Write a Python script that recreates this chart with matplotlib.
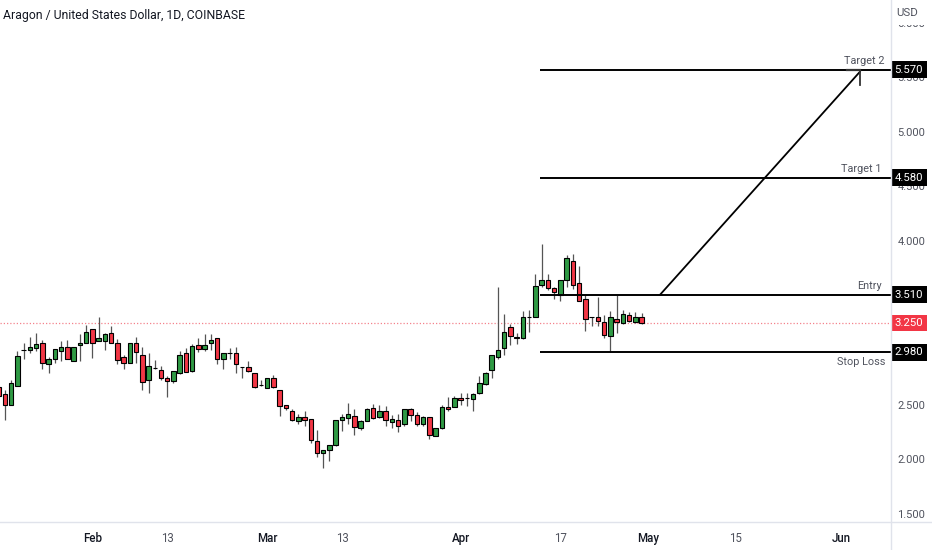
import matplotlib
matplotlib.use('Agg')
import matplotlib.pyplot as plt
from matplotlib.lines import Line2D
from matplotlib.patches import Rectangle

plt.rcParams['font.family'] = ['Roboto', 'DejaVu Sans']

# Daily candles, index 0 is 17 Jan
opens = [2.66, 2.60, 2.50, 2.67, 3.00, 3.00, 3.02, 3.07, 2.87, 2.92,
         2.99, 3.03, 2.90, 3.05, 3.07, 3.19, 3.08, 3.08, 3.16, 3.07,
         2.94, 2.88, 3.07, 2.96, 2.73, 2.84, 2.82, 2.75, 2.72, 2.79,
         2.97, 2.81, 3.05, 3.01, 3.07, 3.11, 2.92, 2.97, 2.97, 2.85,
         2.85, 2.79, 2.68, 2.65, 2.75, 2.64, 2.50, 2.44, 2.35, 2.39,
         2.37, 2.17, 2.06, 2.09, 2.13, 2.36, 2.38, 2.40, 2.29, 2.35,
         2.47, 2.39, 2.44, 2.34, 2.36, 2.32, 2.46, 2.41, 2.32, 2.39,
         2.21, 2.29, 2.48, 2.48, 2.56, 2.56, 2.55, 2.61, 2.69, 2.82,
         2.94, 3.02, 3.21, 3.12, 3.11, 3.30, 3.30, 3.60, 3.64, 3.57,
         3.51, 3.64, 3.82, 3.62, 3.47, 3.30, 3.30, 3.26, 3.13, 3.29,
         3.25, 3.32, 3.26, 3.30]
closes = [2.58, 2.50, 2.70, 2.95, 3.00, 3.03, 3.06, 2.88, 2.92, 3.01,
          3.03, 2.92, 3.03, 3.07, 3.17, 3.07, 3.11, 3.15, 3.07, 2.91,
          2.88, 3.07, 2.98, 2.71, 2.86, 2.84, 2.75, 2.72, 2.81, 2.96,
          2.80, 3.04, 3.01, 3.05, 3.09, 2.92, 2.97, 2.97, 2.87, 2.85,
          2.81, 2.66, 2.68, 2.75, 2.66, 2.49, 2.47, 2.36, 2.39, 2.36,
          2.18, 2.06, 2.09, 2.13, 2.36, 2.39, 2.42, 2.30, 2.35, 2.46,
          2.38, 2.44, 2.36, 2.37, 2.31, 2.46, 2.41, 2.32, 2.39, 2.22,
          2.29, 2.48, 2.46, 2.56, 2.54, 2.56, 2.60, 2.70, 2.79, 2.96,
          3.00, 3.17, 3.13, 3.11, 3.30, 3.30, 3.59, 3.64, 3.57, 3.53,
          3.64, 3.84, 3.60, 3.45, 3.29, 3.30, 3.27, 3.14, 3.30, 3.26,
          3.33, 3.27, 3.30, 3.25]
highs = [2.66, 2.64, 2.73, 2.99, 3.07, 3.12, 3.16, 3.09, 2.94, 3.01,
         3.08, 3.09, 3.03, 3.15, 3.23, 3.19, 3.30, 3.16, 3.22, 3.10,
         2.96, 3.07, 3.12, 3.03, 2.97, 2.91, 2.86, 2.76, 2.81, 2.99,
         3.02, 3.06, 3.11, 3.15, 3.15, 3.11, 2.97, 3.02, 3.03, 2.85,
         2.90, 2.79, 2.73, 2.75, 2.77, 2.64, 2.50, 2.46, 2.42, 2.44,
         2.37, 2.27, 2.09, 2.13, 2.36, 2.42, 2.52, 2.46, 2.36, 2.47,
         2.51, 2.50, 2.49, 2.41, 2.42, 2.46, 2.47, 2.43, 2.40, 2.39,
         2.29, 2.50, 2.57, 2.58, 2.61, 2.61, 2.61, 2.76, 2.80, 2.96,
         3.58, 3.33, 3.24, 3.16, 3.36, 3.37, 3.70, 3.97, 3.70, 3.58,
         3.64, 3.87, 3.88, 3.77, 3.51, 3.30, 3.49, 3.32, 3.36, 3.51,
         3.37, 3.35, 3.35, 3.34]
lows = [2.58, 2.36, 2.50, 2.67, 2.92, 2.97, 2.99, 2.83, 2.79, 2.88,
        2.90, 2.92, 2.90, 2.90, 3.07, 2.93, 3.08, 3.00, 3.07, 2.87,
        2.83, 2.88, 2.88, 2.64, 2.61, 2.83, 2.73, 2.57, 2.70, 2.78,
        2.80, 2.80, 2.98, 2.99, 3.00, 2.87, 2.83, 2.92, 2.79, 2.75,
        2.80, 2.65, 2.67, 2.65, 2.65, 2.40, 2.45, 2.35, 2.32, 2.31,
        2.15, 2.02, 1.92, 1.99, 2.12, 2.26, 2.32, 2.22, 2.27, 2.35,
        2.37, 2.38, 2.31, 2.29, 2.25, 2.31, 2.35, 2.31, 2.31, 2.19,
        2.21, 2.28, 2.44, 2.48, 2.50, 2.49, 2.44, 2.60, 2.68, 2.75,
        2.92, 2.96, 3.05, 3.06, 3.10, 3.17, 3.30, 3.58, 3.55, 3.47,
        3.45, 3.58, 3.56, 3.45, 3.18, 3.22, 3.22, 3.11, 2.98, 3.16,
        3.24, 3.26, 3.25, 3.24]

# Axis ticks, 3.000 and 3.500 sit fully behind the level tags
x_ticks = [15, 27, 43, 55, 74, 90, 104, 118, 135]
x_labels = ['Feb', '13', 'Mar', '13', 'Apr', '17', 'May', '15', 'Jun']
y_ticks = [1.5, 2.0, 2.5, 4.0, 4.5, 5.0, 5.5, 6.0]

# Trade levels
level_prices = [5.57, 4.58, 3.51, 2.98]
level_names = ['Target 2', 'Target 1', 'Entry', 'Stop Loss']
last_price = 3.25
arrow_days = [106, 138]
arrow_prices = [3.51, 5.55]

GREEN = '#2f9a44'
RED = '#f23645'
TEXT = '#50535e'

fig = plt.figure(figsize=(9.32, 5.5), dpi=100)
ax = fig.add_axes([0, 1 - 522 / 550, 890.5 / 932, 522 / 550])
ax.set_xlim(0.2, 142.9)
ax.set_ylim(1.427, 6.207)

# Candles
days = range(len(opens))
ax.vlines(days, lows, highs, color='#555555', linewidth=0.9, zorder=2)
for d in days:
    bottom = min(opens[d], closes[d])
    height = abs(closes[d] - opens[d])
    color = GREEN if closes[d] >= opens[d] else RED
    ax.bar(d, height, bottom=bottom, width=0.72, color=color,
           edgecolor='black', linewidth=0.8, zorder=3)

# Levels and their labels
for price, name in zip(level_prices, level_names):
    ax.hlines(price, 86.8, 143, color='black', linewidth=1.4, zorder=4)
    if name == 'Stop Loss':
        ax.text(142, price - 0.04, name, ha='right', va='top', fontsize=7.8, color=TEXT)
    else:
        x = 142 if name == 'Target 2' else 141.5
        ax.text(x, price + 0.03, name, ha='right', va='bottom', fontsize=7.8, color=TEXT)

# Arrow from entry up to target 2
ax.plot(arrow_days, arrow_prices, color='black', linewidth=1.3, zorder=4)
ax.plot([arrow_days[1], arrow_days[1]], [5.57, 5.43], color='#333333', linewidth=1.3, zorder=4)
ax.plot([136, arrow_days[1]], [5.565, 5.565], color='#333333', linewidth=1.6, zorder=4)

# Last price line
ax.axhline(last_price, color='#f4828c', linewidth=0.9, linestyle=(0, (1, 1.6)), zorder=1)

# Axes
ax.spines['top'].set_visible(False)
ax.spines['left'].set_visible(False)
ax.spines['right'].set_visible(False)
ax.spines['bottom'].set_visible(False)
ax.set_xticks(x_ticks)
ax.set_xticklabels(x_labels, fontsize=8.3)
for label, text in zip(ax.get_xticklabels(), x_labels):
    if text.isdigit():
        label.set_color(TEXT)
    else:
        label.set_color('#131722')
        label.set_fontweight('medium')
ax.tick_params(axis='x', length=0, pad=7.5)
ax.yaxis.tick_right()
ax.set_yticks(y_ticks)
ax.set_yticklabels([f'{t:.3f}' for t in y_ticks], fontsize=8, color=TEXT)
ax.tick_params(axis='y', length=0, pad=5)
fig.add_artist(Line2D([890.5 / 932, 890.5 / 932], [0, 1], color='#e0e3eb', linewidth=1))
fig.add_artist(Line2D([0, 1], [1 - 522 / 550, 1 - 522 / 550], color='#e0e3eb', linewidth=1))

# Price tags on the right axis
trans = ax.get_yaxis_transform()
tag_w = 36.5 / 890.5
tag_h = 16.5 / 109.2
tag_prices = level_prices + [last_price]
tag_colors = ['black'] * 4 + [RED]
for price, color in zip(tag_prices, tag_colors):
    ax.add_patch(Rectangle((1, price - tag_h / 2), tag_w, tag_h, transform=trans,
                           facecolor=color, edgecolor='none', clip_on=False, zorder=10))
    ax.text(1 + tag_w / 2, price, f'{price:.3f}', transform=trans, ha='center',
            va='center', fontsize=8.2, color='white', clip_on=False, zorder=11)

# Top of the price scale is hidden behind the currency label
ax.add_patch(Rectangle((1.001, 5.98), tag_w * 1.2, 0.3, transform=trans,
                       facecolor='white', edgecolor='none', clip_on=False, zorder=8))
fig.text(907 / 932, 1 - 13 / 550, 'USD', ha='center', va='center', fontsize=8.2, color=TEXT, zorder=12)

# Title
fig.text(3 / 932, 1 - 16 / 550, 'Aragon / United States Dollar, 1D, COINBASE',
         ha='left', va='center', fontsize=8.8, color='#131722')

plt.savefig('out.png', dpi=100)
plt.close()
